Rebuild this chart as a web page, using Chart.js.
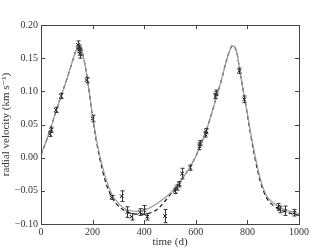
<!DOCTYPE html>
<html>
<head>
<meta charset="utf-8">
<script src="https://cdn.jsdelivr.net/npm/chart.js@4/dist/chart.umd.min.js"></script>
<style>
  html, body { margin: 0; padding: 0; background: #fff; }
  #wrap { width: 332px; height: 249px; }
</style>
</head>
<body>
<div id="wrap"><canvas id="rv" width="332" height="249"></canvas></div>
<script>
// model curves (time in days, velocity in km/s)
const modelT = [0, 25, 50, 75, 100, 120, 135, 145, 155, 165, 180, 200, 225, 250, 275, 300, 325, 350, 375, 400,
  425, 450, 475, 500, 525, 550, 575, 600, 625, 650, 675, 700, 720, 735, 742, 750, 760, 770, 790, 800,
  825, 850, 875, 900, 925, 950, 975, 1000];
const modelSolid = [0.005, 0.030, 0.060, 0.090, 0.118, 0.143, 0.161, 0.169, 0.166, 0.151, 0.118, 0.062, 0.008, -0.030, -0.055, -0.069, -0.077, -0.080, -0.081, -0.079,
  -0.075, -0.069, -0.062, -0.054, -0.043, -0.030, -0.016, 0.002, 0.025, 0.052, 0.085, 0.118, 0.148, 0.165, 0.169, 0.167, 0.157, 0.132, 0.088, 0.066,
  0.012, -0.032, -0.058, -0.068, -0.075, -0.079, -0.082, -0.084];
const modelDashed = [0.004, 0.030, 0.060, 0.090, 0.118, 0.143, 0.161, 0.169, 0.166, 0.151, 0.118, 0.060, 0.004, -0.036, -0.060, -0.073, -0.080, -0.084, -0.085, -0.085,
  -0.083, -0.078, -0.068, -0.056, -0.043, -0.030, -0.016, 0.002, 0.025, 0.052, 0.085, 0.118, 0.148, 0.165, 0.169, 0.167, 0.157, 0.132, 0.088, 0.064,
  0.008, -0.036, -0.061, -0.072, -0.078, -0.082, -0.085, -0.087];

// observations
const obsT = [35, 40, 58, 78, 143, 146, 148, 150, 152, 177, 200, 274, 313, 335, 351, 384, 400, 412, 481,
  519, 526, 536, 547, 578, 614, 618, 637, 640, 676, 680, 769, 788, 920, 926, 946, 982];
const obsV = [0.036, 0.042, 0.072, 0.093, 0.170, 0.166, 0.163, 0.160, 0.156, 0.117, 0.059, -0.060, -0.058, -0.082, -0.089, -0.082, -0.079, -0.089, -0.088,
  -0.050, -0.045, -0.040, -0.024, -0.015, 0.017, 0.022, 0.035, 0.040, 0.093, 0.098, 0.131, 0.088, -0.074, -0.078, -0.080, -0.083];
const obsErr = [0.004, 0.004, 0.004, 0.004, 0.006, 0.004, 0.004, 0.005, 0.006, 0.004, 0.005, 0.003, 0.008, 0.008, 0.005, 0.005, 0.007, 0.005, 0.010,
  0.004, 0.004, 0.004, 0.008, 0.004, 0.005, 0.004, 0.004, 0.004, 0.004, 0.004, 0.004, 0.005, 0.005, 0.005, 0.007, 0.005];

const xTicks = [0, 200, 400, 600, 800, 1000];
const yTicks = [-0.10, -0.05, 0.00, 0.05, 0.10, 0.15, 0.20];

const serif = "'Liberation Serif', 'DejaVu Serif', serif";

// error bars + boxed frame with inward ticks on all sides
const errorBars = {
  id: 'errorBars',
  afterDatasetsDraw(chart) {
    const ctx = chart.ctx;
    const x = chart.scales.x, y = chart.scales.y;
    ctx.save();
    ctx.strokeStyle = '#333';
    ctx.lineWidth = 1;
    obsT.forEach((t, i) => {
      const px = Math.round(x.getPixelForValue(t)) + 0.5;
      const top = y.getPixelForValue(obsV[i] + obsErr[i]);
      const bot = y.getPixelForValue(obsV[i] - obsErr[i]);
      ctx.beginPath();
      ctx.moveTo(px, top); ctx.lineTo(px, bot);
      ctx.moveTo(px - 2, top); ctx.lineTo(px + 2, top);
      ctx.moveTo(px - 2, bot); ctx.lineTo(px + 2, bot);
      ctx.stroke();
    });
    ctx.restore();
  },
  afterDraw(chart) {
    const ctx = chart.ctx;
    const a = chart.chartArea;
    const x = chart.scales.x, y = chart.scales.y;
    ctx.save();
    ctx.strokeStyle = '#444';
    ctx.lineWidth = 1;
    ctx.strokeRect(Math.round(a.left) + 0.5, Math.round(a.top) + 0.5, Math.round(a.right - a.left), Math.round(a.bottom - a.top));
    ctx.beginPath();
    xTicks.forEach(v => {
      const px = Math.round(x.getPixelForValue(v)) + 0.5;
      ctx.moveTo(px, a.bottom); ctx.lineTo(px, a.bottom - 4);
      ctx.moveTo(px, a.top); ctx.lineTo(px, a.top + 4);
    });
    yTicks.forEach(v => {
      const py = Math.round(y.getPixelForValue(v)) + 0.5;
      ctx.moveTo(a.left, py); ctx.lineTo(a.left + 4, py);
      ctx.moveTo(a.right, py); ctx.lineTo(a.right - 4, py);
    });
    ctx.stroke();
    ctx.restore();
  }
};

new Chart(document.getElementById('rv'), {
  type: 'line',
  data: {
    datasets: [
      {
        label: 'model A',
        data: modelT.map((t, i) => ({ x: t, y: modelSolid[i] })),
        borderColor: '#9a9a9a',
        borderWidth: 1.2,
        pointRadius: 0,
        cubicInterpolationMode: 'monotone'
      },
      {
        label: 'model B',
        data: modelT.map((t, i) => ({ x: t, y: modelDashed[i] })),
        borderColor: '#111',
        borderWidth: 1.2,
        borderDash: [4, 3],
        pointRadius: 0,
        cubicInterpolationMode: 'monotone'
      },
      {
        label: 'data',
        data: obsT.map((t, i) => ({ x: t, y: obsV[i] })),
        showLine: false,
        pointStyle: 'crossRot',
        pointRadius: 2.5,
        borderColor: '#000',
        borderWidth: 1
      }
    ]
  },
  options: {
    responsive: false,
    animation: false,
    events: [],
    layout: { padding: { top: 25, right: 33, left: 0, bottom: 0 } },
    plugins: { legend: { display: false }, tooltip: { enabled: false } },
    scales: {
      x: {
        type: 'linear',
        min: 0, max: 1000,
        afterBuildTicks: s => { s.ticks = xTicks.map(v => ({ value: v })); },
        afterFit: s => { s.height = 25; },
        grid: { display: false, drawTicks: false },
        border: { display: false },
        ticks: { color: '#333', font: { family: serif, size: 10 }, padding: 2, maxRotation: 0, callback: v => String(v) },
        title: { display: true, text: 'time (d)', color: '#333', font: { family: serif, size: 11 }, padding: { top: 0, bottom: 0 } }
      },
      y: {
        min: -0.10, max: 0.20,
        afterBuildTicks: s => { s.ticks = yTicks.map(v => ({ value: v })); },
        afterFit: s => { s.width = 41; },
        grid: { display: false, drawTicks: false },
        border: { display: false },
        ticks: {
          color: '#333', font: { family: serif, size: 10 }, padding: 3,
          callback: v => (v < 0 ? '\u2212' : '') + Math.abs(v).toFixed(2)
        },
        title: { display: true, text: 'radial velocity (km s\u207B\u00B9)', color: '#333', font: { family: serif, size: 11 }, padding: { top: 0, bottom: 0 } }
      }
    }
  },
  plugins: [errorBars]
});
</script>
</body>
</html>
